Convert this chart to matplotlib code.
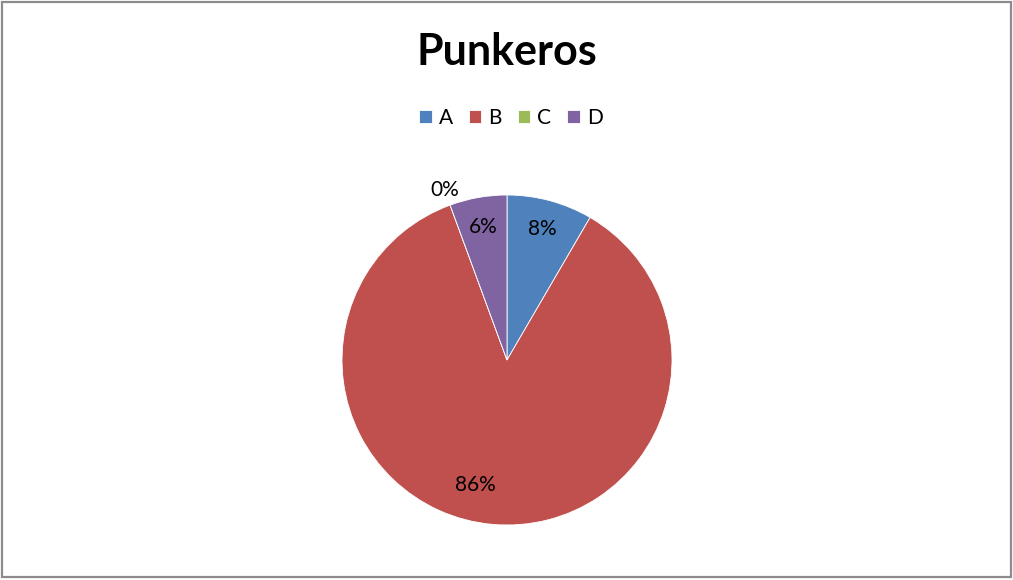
import numpy as np
import matplotlib
matplotlib.use("Agg")
import matplotlib.pyplot as plt
from matplotlib.patches import Rectangle

categories = ["A", "B", "C", "D"]
values = [8.4, 86.0, 0.0, 5.6]
colors = ["#4F81BD", "#C0504D", "#9BBB59", "#8064A2"]
title = "Punkeros"

plt.rcParams["font.family"] = ["Lato", "DejaVu Sans"]

W, H = 1013, 580
fig = plt.figure(figsize=(W / 100, H / 100), dpi=100)

# pie area: centre (507, 360) px, radius 165 px
cx, cy, r = 507, 360, 165
ax = fig.add_axes([(cx - r) / W, (H - cy - r) / H, 2 * r / W, 2 * r / H])
ax.set_aspect("equal")
ax.axis("off")

wedges, _ = ax.pie(values, colors=colors, startangle=90, counterclock=False,
                   radius=1, center=(0, 0),
                   wedgeprops=dict(edgecolor="white", linewidth=0.6))
ax.set_xlim(-1, 1)
ax.set_ylim(-1, 1)

# percentage labels
total = sum(values)
start = 0.0
dist = {"A": 0.82, "B": 0.78, "C": 1.10, "D": 0.82}
shift = {"A": 0.0, "B": 9.0, "C": 0.0, "D": 0.0}
for cat, v in zip(categories, values):
    frac = v / total
    mid = start + frac * 180.0 + shift[cat]  # degrees clockwise from top
    theta = np.deg2rad(90 - mid)
    d = dist[cat]
    ax.text(d * np.cos(theta), d * np.sin(theta), f"{round(frac * 100):.0f}%",
            ha="center", va="center", fontsize=15, color="black")
    start += frac * 360.0

fig.text(cx / W, 1 - 52 / H, title, ha="center", va="center",
         fontsize=31, fontweight="bold", color="black")

fig.legend(wedges, categories, loc="center", bbox_to_anchor=(511 / W, 1 - 118 / H),
           ncol=4, frameon=False, fontsize=15, handlelength=0.6, handleheight=0.6,
           handletextpad=0.35, columnspacing=0.75, borderaxespad=0)

fig.add_artist(Rectangle((2 / W, 3 / H), (W - 4) / W, (H - 5) / H,
                         transform=fig.transFigure, fill=False,
                         edgecolor="#8c8c8c", linewidth=1.6))

fig.savefig("out.png", dpi=100, facecolor="white")
